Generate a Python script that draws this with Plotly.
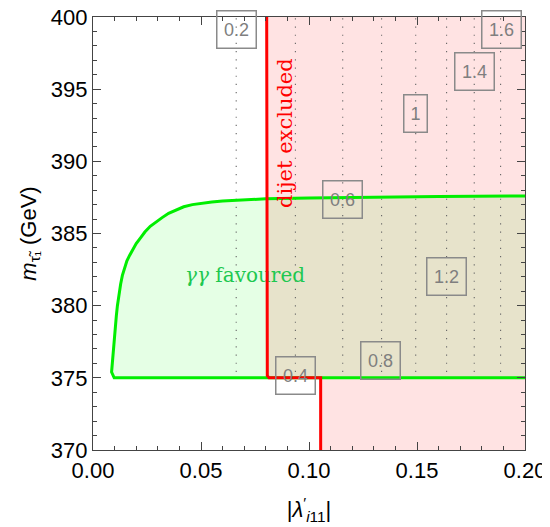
import plotly.graph_objects as go

# ---- data ----
# gamma-gamma favoured region boundary (|lambda'|, m_stau)
green_x = [0.21, 0.0098, 0.0086, 0.0090, 0.0094, 0.0098, 0.0103, 0.0108, 0.0113, 0.0120,
           0.0128, 0.0136, 0.0145, 0.0157, 0.0170, 0.0185, 0.0200, 0.0220, 0.0240, 0.0265,
           0.0290, 0.0320, 0.0350, 0.0385, 0.0420, 0.0460, 0.0500, 0.0550, 0.0600, 0.0700,
           0.0800, 0.1000, 0.1200, 0.1600, 0.2000, 0.21]
green_y = [375.0, 375.0, 375.4, 376.2, 377.0, 377.8, 378.6, 379.3, 380.0, 380.8,
           381.5, 382.1, 382.6, 383.1, 383.5, 383.9, 384.3, 384.7, 385.1, 385.5,
           385.8, 386.1, 386.4, 386.65, 386.85, 387.0, 387.1, 387.18, 387.25, 387.33,
           387.4, 387.46, 387.5, 387.56, 387.6, 387.62]

# dijet exclusion boundary
red_x = [0.0804, 0.0804, 0.0807, 0.0815, 0.1054, 0.1054]
red_y = [401.0, 375.45, 375.15, 375.0, 375.0, 369.0]

# contour levels (dotted) and their |lambda'| positions
contour_levels = ["0.2", "0.4", "0.6", "0.8", "1", "1.2", "1.4", "1.6"]
contour_x = [0.0663, 0.0937, 0.1156, 0.1336, 0.1494, 0.1637, 0.1765, 0.1887]
contour_ymin = 375.4
contour_ymax = 400.0
# label positions for contour labels
label_x = [0.0665, 0.0938, 0.1155, 0.1333, 0.1493, 0.1636, 0.1767, 0.1889]
label_y = [399.1, 375.13, 387.33, 376.21, 393.3, 382.04, 396.2, 399.1]

x_ticks = [0.0, 0.05, 0.10, 0.15, 0.20]
x_tick_text = ["0.00", "0.05", "0.10", "0.15", "0.20"]
y_ticks = [370, 375, 380, 385, 390, 395, 400]

fig = go.Figure()

# green fill
fig.add_trace(go.Scatter(x=green_x, y=green_y, mode="lines", fill="toself",
                         fillcolor="rgba(0,255,0,0.10)", line=dict(width=0),
                         hoverinfo="skip", showlegend=False))
# red fill
red_fill_x = red_x + [0.21, 0.21]
red_fill_y = red_y + [369.0, 401.0]
fig.add_trace(go.Scatter(x=red_fill_x, y=red_fill_y, mode="lines", fill="toself",
                         fillcolor="rgba(255,0,0,0.11)", line=dict(width=0),
                         hoverinfo="skip", showlegend=False))
# dotted contours
for cx in contour_x:
    fig.add_trace(go.Scatter(x=[cx, cx], y=[contour_ymin, contour_ymax], mode="lines",
                             line=dict(color="#666666", width=1.1, dash="1.2px,7px"),
                             hoverinfo="skip", showlegend=False))
# gamma gamma favoured text (under the red line)
fig.add_trace(go.Scatter(x=[0.0704], y=[382.0], mode="text",
                         text=["<i>γγ</i> favoured"],
                         textfont=dict(family="DejaVu Serif", size=20, color="#1ec850"),
                         hoverinfo="skip", showlegend=False))
# green line
fig.add_trace(go.Scatter(x=green_x, y=green_y, mode="lines",
                         line=dict(color="#00ee00", width=3),
                         hoverinfo="skip", showlegend=False))
# red line
fig.add_trace(go.Scatter(x=red_x, y=red_y, mode="lines",
                         line=dict(color="#ff0000", width=3),
                         hoverinfo="skip", showlegend=False))

for lab, lx, ly in zip(contour_levels, label_x, label_y):
    fig.add_annotation(x=lx, y=ly, text=lab, showarrow=False,
                       font=dict(family="Liberation Sans", size=18, color="#7f7f7f"),
                       bordercolor="#8a8a8a", borderwidth=1.5, borderpad=2,
                       width=(18 if len(lab) == 1 else 34), height=32)

fig.add_annotation(x=0.0889, y=391.96, text="dijet excluded", textangle=-90,
                   showarrow=False,
                   font=dict(family="DejaVu Serif", size=21, color="#ff0000"))

axis_common = dict(showgrid=False, zeroline=False, showline=True, linecolor="#444",
                   linewidth=1.3, mirror="ticks", ticks="inside", ticklen=8,
                   tickwidth=1.2, tickcolor="#444", automargin=False,
                   ticklabeloverflow="allow",
                   tickfont=dict(family="Liberation Sans", size=22, color="black"))

fig.update_xaxes(range=[0, 0.2], tickvals=x_ticks, ticktext=x_tick_text,
                 minor=dict(dtick=0.01, ticks="inside", ticklen=4, tickcolor="#444"),
                 title=dict(text="|<i>λ</i><sup>′</sup><sub><i>i</i>11</sub>|",
                            font=dict(family="Liberation Sans", size=22, color="black"),
                            standoff=20),
                 **axis_common)
fig.update_yaxes(range=[370, 400], tickvals=y_ticks,
                 minor=dict(dtick=1, ticks="inside", ticklen=4, tickcolor="#444"),
                 title=dict(text="<i>m</i><sub>τ̃₁</sub> (GeV)",
                            font=dict(family="Liberation Sans", size=22, color="black"),
                            standoff=8),
                 **axis_common)

# the page body adds an 8px offset, so the figure is 8px smaller and margins compensate
fig.update_layout(width=542, height=519, plot_bgcolor="white", paper_bgcolor="white",
                  margin=dict(l=85, r=25, t=9, b=77))

fig.write_html("out.html")
